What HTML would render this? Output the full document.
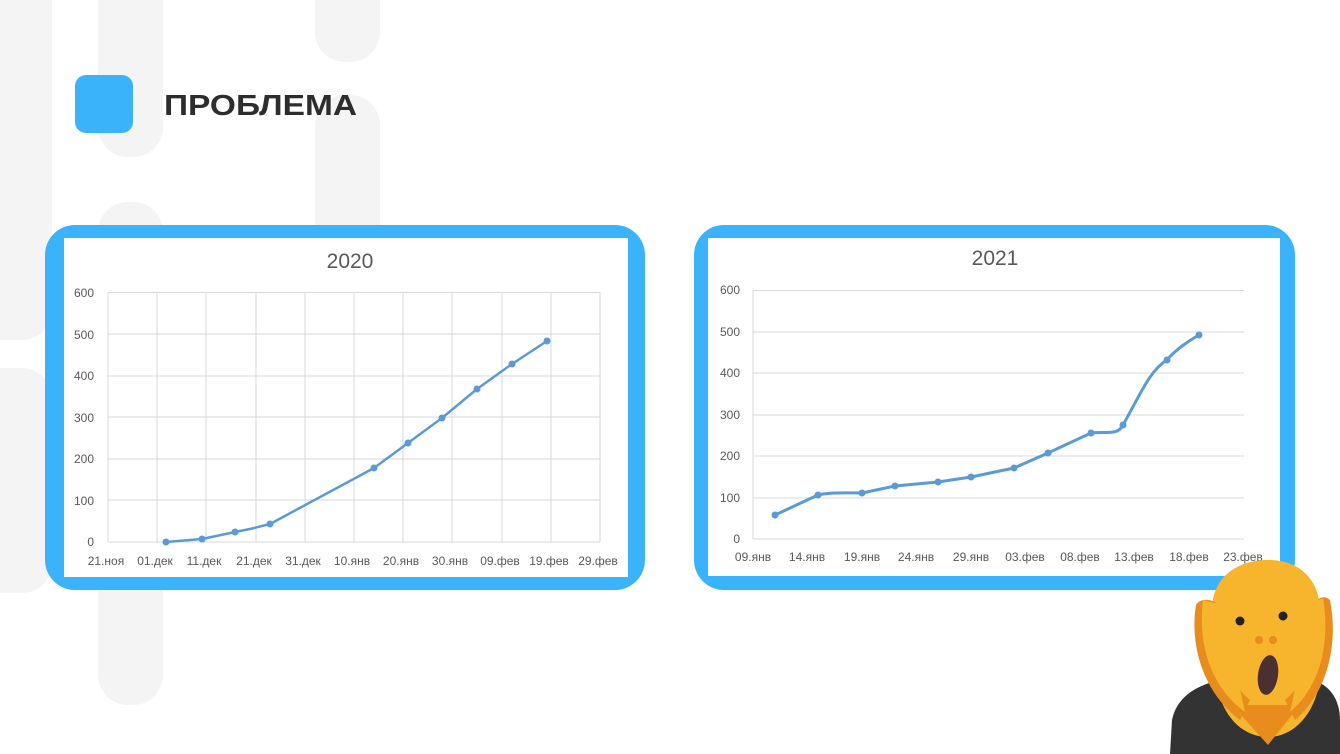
<!DOCTYPE html>
<html><head><meta charset="utf-8"><style>
html,body{margin:0;padding:0;background:#fff;}
svg{display:block;}
text{font-family:"Liberation Sans",sans-serif;}
</style></head><body>
<svg width="1340" height="754" viewBox="0 0 1340 754" xmlns="http://www.w3.org/2000/svg">
<rect width="1340" height="754" fill="#fff"/>
<!-- background bars -->
<g fill="#f4f4f4">
<rect x="-30" y="-40" width="82" height="380" rx="30"/>
<rect x="-30" y="368" width="82" height="225" rx="30"/>
<rect x="98" y="-40" width="65" height="197" rx="30"/>
<rect x="98" y="202" width="65" height="503" rx="30"/>
<rect x="315" y="-40" width="65" height="102" rx="30"/>
<rect x="315" y="95" width="65" height="200" rx="30"/>
</g>
<!-- heading -->
<rect x="75" y="75" width="58" height="58" rx="11" fill="#3bb3fb"/>
<text x="164" y="115" font-size="29" font-weight="bold" fill="#2d2d2d" textLength="193" lengthAdjust="spacingAndGlyphs">ПРОБЛЕМА</text>

<!-- card 1 -->
<rect x="45" y="225" width="600" height="365" rx="30" fill="#3bb3fb"/>
<rect x="64" y="238" width="564" height="339" fill="#fff"/>
<text x="350" y="268" font-size="21" fill="#595959" text-anchor="middle">2020</text>
<g stroke="#d9d9d9" stroke-width="1">
<line x1="108" y1="292.5" x2="600" y2="292.5"/><line x1="108" y1="334" x2="600" y2="334"/>
<line x1="108" y1="376" x2="600" y2="376"/><line x1="108" y1="417" x2="600" y2="417"/>
<line x1="108" y1="459" x2="600" y2="459"/><line x1="108" y1="500" x2="600" y2="500"/>
<line x1="108" y1="542" x2="600" y2="542"/>
<line x1="108" y1="292" x2="108" y2="542"/><line x1="157" y1="292" x2="157" y2="542"/>
<line x1="206" y1="292" x2="206" y2="542"/><line x1="256" y1="292" x2="256" y2="542"/>
<line x1="305" y1="292" x2="305" y2="542"/><line x1="354" y1="292" x2="354" y2="542"/>
<line x1="403" y1="292" x2="403" y2="542"/><line x1="452" y1="292" x2="452" y2="542"/>
<line x1="502" y1="292" x2="502" y2="542"/><line x1="551" y1="292" x2="551" y2="542"/>
<line x1="600" y1="292" x2="600" y2="542"/>
</g>
<g font-size="12" fill="#595959" text-anchor="end">
<text x="94" y="297">600</text><text x="94" y="339">500</text><text x="94" y="380">400</text>
<text x="94" y="422">300</text><text x="94" y="463">200</text><text x="94" y="505">100</text><text x="94" y="546">0</text>
</g>
<g font-size="12" fill="#595959" text-anchor="middle">
<text x="106" y="565">21.ноя</text><text x="155" y="565">01.дек</text><text x="204" y="565">11.дек</text>
<text x="254" y="565">21.дек</text><text x="303" y="565">31.дек</text><text x="352" y="565">10.янв</text>
<text x="401" y="565">20.янв</text><text x="450" y="565">30.янв</text><text x="500" y="565">09.фев</text>
<text x="549" y="565">19.фев</text><text x="598" y="565">29.фев</text>
</g>
<polyline fill="none" stroke="#5b9bd5" stroke-width="2.5" stroke-linejoin="round" points="166,542 202,539 235,532 250,529 270,524 374,468 408,443 442,418 477,389 512,364 547,341"/>
<g fill="#5b9bd5">
<circle cx="166" cy="542" r="3.5"/><circle cx="202" cy="539" r="3.5"/><circle cx="235" cy="532" r="3.5"/>
<circle cx="270" cy="524" r="3.5"/><circle cx="374" cy="468" r="3.5"/><circle cx="408" cy="443" r="3.5"/>
<circle cx="442" cy="418" r="3.5"/><circle cx="477" cy="389" r="3.5"/><circle cx="512" cy="364" r="3.5"/>
<circle cx="547" cy="341" r="3.5"/>
</g>

<!-- card 2 -->
<rect x="694" y="225" width="601" height="365" rx="30" fill="#3bb3fb"/>
<rect x="708" y="238" width="572" height="338" fill="#fff"/>
<text x="995" y="265" font-size="21" fill="#595959" text-anchor="middle">2021</text>
<g stroke="#d9d9d9" stroke-width="1">
<line x1="753" y1="290.5" x2="1244" y2="290.5"/><line x1="753" y1="332" x2="1244" y2="332"/>
<line x1="753" y1="373" x2="1244" y2="373"/><line x1="753" y1="415" x2="1244" y2="415"/>
<line x1="753" y1="456" x2="1244" y2="456"/><line x1="753" y1="498" x2="1244" y2="498"/>
<line x1="753" y1="539" x2="1244" y2="539"/>
<line x1="753" y1="290" x2="753" y2="539"/>
</g>
<g font-size="12" fill="#595959" text-anchor="end">
<text x="740" y="294">600</text><text x="740" y="336">500</text><text x="740" y="377">400</text>
<text x="740" y="419">300</text><text x="740" y="460">200</text><text x="740" y="502">100</text><text x="740" y="543">0</text>
</g>
<g font-size="12" fill="#595959" text-anchor="middle">
<text x="753" y="561">09.янв</text><text x="807" y="561">14.янв</text><text x="862" y="561">19.янв</text>
<text x="916" y="561">24.янв</text><text x="971" y="561">29.янв</text><text x="1025" y="561">03.фев</text>
<text x="1080" y="561">08.фев</text><text x="1134" y="561">13.фев</text><text x="1189" y="561">18.фев</text>
<text x="1243" y="561">23.фев</text>
</g>
<path fill="none" stroke="#5b9bd5" stroke-width="3" stroke-linejoin="round" d="M775,515 L818,495 C830,492 850,493 862,493 L895,486 L938,482 L971,477 L1014,468 L1048,453 L1091,433 C1105,431 1118,436 1123,425 C1140,395 1150,370 1167,360 C1175,350 1190,340 1199,335"/>
<g fill="#5b9bd5">
<circle cx="775" cy="515" r="3.5"/><circle cx="818" cy="495" r="3.5"/><circle cx="862" cy="493" r="3.5"/>
<circle cx="895" cy="486" r="3.5"/><circle cx="938" cy="482" r="3.5"/><circle cx="971" cy="477" r="3.5"/>
<circle cx="1014" cy="468" r="3.5"/><circle cx="1048" cy="453" r="3.5"/><circle cx="1091" cy="433" r="3.5"/>
<circle cx="1123" cy="425" r="3.5"/><circle cx="1167" cy="360" r="3.5"/><circle cx="1199" cy="335" r="3.5"/>
</g>

<!-- scream emoji -->
<path d="M1170,754 L1172,720 C1178,690 1210,680 1235,678 L1305,678 C1330,682 1340,700 1340,720 L1340,754 Z" fill="#333"/>
<path d="M1212,610 C1212,575 1240,560 1268,560 C1298,560 1320,578 1320,612 L1318,690 C1310,720 1290,737 1268,737 C1245,737 1225,720 1218,690 Z" fill="#f6b52c"/>
<path d="M1232,705 L1268,745 L1300,705 Z" fill="#e88c1e"/>
<path d="M1196,605 C1190,640 1200,690 1240,720 L1250,700 C1225,680 1215,640 1218,605 C1212,598 1200,598 1196,605 Z" fill="#e88c1e"/>
<path d="M1330,600 C1338,640 1330,690 1295,720 L1285,700 C1310,680 1318,640 1316,602 C1320,596 1326,596 1330,600 Z" fill="#e88c1e"/>
<path d="M1203,600 C1198,640 1208,685 1245,712 L1238,680 C1220,660 1218,630 1222,605 Z" fill="#f6b52c"/>
<path d="M1323,598 C1330,640 1322,685 1290,712 L1297,680 C1312,660 1314,630 1312,603 Z" fill="#f6b52c"/>
<circle cx="1240" cy="621" r="4.5" fill="#222"/><circle cx="1283" cy="616" r="4.5" fill="#222"/>
<circle cx="1259" cy="640" r="4" fill="#e88c1e"/><circle cx="1273" cy="640" r="4" fill="#e88c1e"/>
<ellipse cx="1268" cy="675" rx="10" ry="20" transform="rotate(8 1268 675)" fill="#4a3030"/>
</svg>
</body></html>
